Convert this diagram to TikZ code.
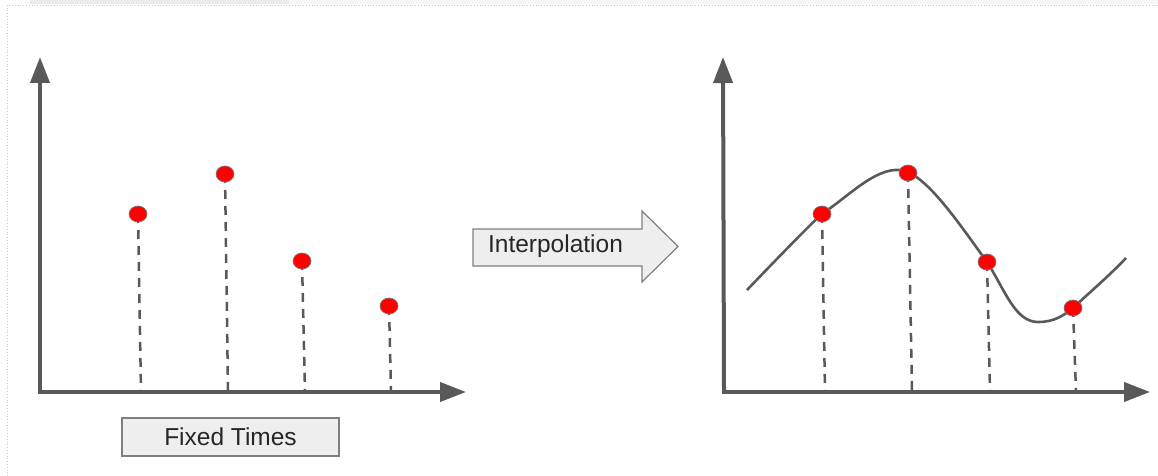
\documentclass[tikz,border=0pt]{standalone}
\usepackage{fontspec}
\setmainfont{Liberation Sans}
\usetikzlibrary{arrows.meta,shapes.geometric}
\definecolor{axisgray}{HTML}{595959}
\definecolor{boxfill}{HTML}{EEEEEE}
\definecolor{boxline}{HTML}{7F7F7F}
\definecolor{framegray}{HTML}{C8C8C8}
\begin{document}
\begin{tikzpicture}[x=1pt,y=-1pt,
  axis/.style={line width=4pt, draw=axisgray, -{Triangle[length=26pt,width=19pt]}},
  dot/.style={ellipse, minimum width=18pt, minimum height=16pt, inner sep=0pt, fill=red, draw=axisgray!80, line width=0.7pt},
  drop/.style={draw=axisgray, line width=2.5pt, dash pattern=on 9pt off 7pt},
  curve/.style={draw=axisgray, line width=2.6pt},
  lbl/.style={font=\fontsize{24.5}{28}\selectfont, text=black!85, inner sep=0pt}
]
\useasboundingbox (0,0) rectangle (1158,476);
% page decorations
\fill[black!8] (30,0) rectangle (289,4);
\fill[black!3] (289,0) rectangle (1158,4);
\draw[framegray, dotted, line width=0.8pt] (7,476) -- (7,5) -- (1158,5);

% ---------- left chart ----------
\coordinate (O1) at (40,392);
\coordinate (Y1) at (40,57);
\coordinate (X1) at (466,392);
\draw[axis] ([yshift=2pt]O1) -- (Y1);
\draw[axis] ([xshift=-2pt]O1) -- (X1);
\coordinate (a1) at (138,214); \coordinate (a1b) at (141,392);
\coordinate (a2) at (225,174); \coordinate (a2b) at (228,392);
\coordinate (a3) at (302,261); \coordinate (a3b) at (305,392);
\coordinate (a4) at (389,306); \coordinate (a4b) at (391,392);
\foreach \i in {1,...,4}{\draw[drop] (a\i) -- (a\i b);}
\foreach \i in {1,...,4}{\node[dot] (la\i) at (a\i) {};}

\node[lbl, draw=boxline, fill=boxfill, line width=1.2pt, minimum width=217pt, minimum height=38pt] (fixed) at (230.5,437) {Fixed Times};

% ---------- interpolation arrow ----------
\draw[draw=boxline, fill=boxfill, line width=1.2pt] (473,229) -- (642,229) -- (642,211) -- (678,246.5) -- (642,282) -- (642,266) -- (473,266) -- cycle;
\node[lbl] (interp) at (555.5,246) {Interpolation};

% ---------- right chart ----------
\coordinate (O2) at (724,392);
\coordinate (Y2) at (723,57);
\coordinate (X2) at (1150,392);
\draw[axis] ([yshift=2pt]O2) -- (Y2);
\draw[axis] ([xshift=-2pt]O2) -- (X2);
\coordinate (b1) at (822,214); \coordinate (b1b) at (825,392);
\coordinate (b2) at (908,173); \coordinate (b2b) at (912,392);
\coordinate (b3) at (987,262); \coordinate (b3b) at (990,392);
\coordinate (b4) at (1073,308); \coordinate (b4b) at (1076,392);
\coordinate (cs) at (747,290);
\coordinate (ce) at (1126,258);
\draw[curve] (cs) .. controls (790,245) and (820,215) .. (b1)
  .. controls (850,195) and (875,168) .. (900,170)
  .. controls (925,172) and (960,225) .. (b3)
  .. controls (1005,290) and (1015,322) .. (1038,322)
  .. controls (1055,322) and (1064,315) .. (b4)
  .. controls (1090,292) and (1110,275) .. (ce);
\foreach \i in {1,...,4}{\draw[drop] (b\i) -- (b\i b);}
\foreach \i in {1,...,4}{\node[dot] (rb\i) at (b\i) {};}
\end{tikzpicture}
\end{document}
